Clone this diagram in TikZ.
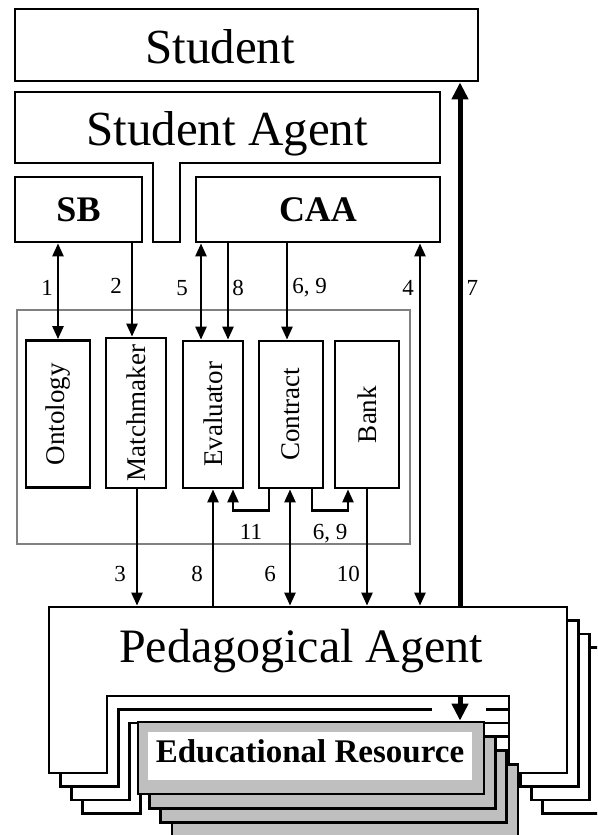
\documentclass[tikz,border=0pt]{standalone}
\usepackage{fontspec}
\setmainfont{Liberation Serif}
\usetikzlibrary{arrows.meta}
\definecolor{ergray}{HTML}{BFBFBF}
\definecolor{coregray}{HTML}{808080}

\begin{document}
\begin{tikzpicture}[
  x=1pt, y=-1pt,
  line width=2.8pt,
  box/.style={draw, fill=white, inner sep=0pt},
  part/.style={box, minimum height=147pt, font=\fontsize{27}{27}\selectfont},
  big/.style={inner sep=0pt, font=\fontsize{49}{49}\selectfont},
  strong/.style={font=\fontsize{36}{36}\selectfont\bfseries},
  num/.style={inner sep=0pt, font=\fontsize{23}{23}\selectfont},
  link/.style={line width=2.5pt, >={Triangle[length=13pt,width=11pt]}},
  heavy/.style={line width=5pt, >={Triangle[length=17pt,width=16pt]}}
]
  \useasboundingbox (0,0) rectangle (597,835);
  \clip (0,0) rectangle (597,835);

  \foreach \n/\x in {c1/58, c2/132, c5/201, c8/228, c69/287, c4/420, c7/460,
                     d3/137, d8/213, d6/290, d10/367,
                     e11/269, f11/233, e69/312, f69/348}
    \coordinate (\n) at (\x,0);

  \node[box, minimum width=463pt, minimum height=72pt] (student) at (246.5,45) {};
  \node[big, anchor=base] (studentname) at (220,63) {Student};

  \draw[fill=white] (15,92) -- (440,92) -- (440,163) -- (180,163) -- (180,242)
    -- (153,242) -- (153,163) -- (15,163) -- cycle;
  \node[big, anchor=base] (sa) at (227,145) {Student Agent};

  \node[box, strong, minimum width=127pt, minimum height=65pt] (sb) at (78.5,209.5) {SB};
  \node[box, strong, minimum width=244pt, minimum height=65pt] (caa) at (318,209.5) {CAA};

  \node[draw=coregray, line width=2.8pt, minimum width=393pt, minimum height=234pt] (core) at (213.5,427) {};
  \node[part, minimum width=64pt] (onto) at (58,414) {\rotatebox{90}{Ontology}};
  \node[part, minimum width=60pt, minimum height=150pt] (match) at (136,413) {\rotatebox{90}{Matchmaker}};
  \node[part, minimum width=60pt] (eval) at (213,414.5) {\rotatebox{90}{Evaluator}};
  \node[part, minimum width=64pt] (contract) at (291,414.5) {\rotatebox{90}{Contract}};
  \node[part, minimum width=64pt] (bank) at (367,414.5) {\rotatebox{90}{Bank}};

  \foreach \k in {3,2,1,0}
    \draw[fill=white, shift={(11.2*\k,13.5*\k)}] (49,607) -- (567,607) -- (567,773)
      -- (509,773) -- (509,696) -- (107,696) -- (107,773) -- (49,773) -- cycle;
  \node[inner sep=0pt, minimum height=89pt, font=\fontsize{48}{48}\selectfont] (pa) at (301,651.5) {Pedagogical Agent};
  \fill[white] (432,701) rectangle (486,716);

  \foreach \k in {3,2,1}
    \draw[fill=ergray, shift={(11.3*\k,14.2*\k)}] (138,722) rectangle (484,794);
  \node[box, fill=ergray, minimum width=346pt, minimum height=72pt] (er) at (311,758) {};
  \node[fill=white, inner sep=0pt, minimum width=324pt, minimum height=48pt,
        text height=22.3pt, text depth=10pt, font=\fontsize{33}{33}\selectfont\bfseries]
    (ertext) at (310,756) {Educational Resource};

  \draw[link, <->] (sb.south -| c1) -- node[num, left=4pt, pos=0.46] (n1) {1} (onto.north -| c1);
  \draw[link, ->] (sb.south -| c2) -- node[num, left=9pt, pos=0.46] (n2) {2} (match.north -| c2);
  \draw[link, <->] (caa.south -| c5) -- node[num, left=12pt, pos=0.46] (n5) {5} (eval.north -| c5);
  \draw[link, ->] (caa.south -| c8) -- node[num, right=3pt, pos=0.46] (n8) {8} (eval.north -| c8);
  \draw[link, ->] (caa.south -| c69) -- node[num, right=4pt, pos=0.46] (n69) {6, 9} (contract.north -| c69);
  \draw[link, <->] (caa.south -| c4) -- node[num, left=5pt, pos=0.123] (n4) {4} (pa.north -| c4);
  \draw[heavy, ->] (pa.north -| c7) -- node[num, right=4pt, pos=0.608] (n7) {7} (student.south -| c7);

  \draw[link, ->] (match.south -| d3) -- node[num, left=10pt, pos=0.73] (m3) {3} (pa.north -| d3);
  \draw[link, ->] (pa.north -| d8) -- node[num, left=9pt, pos=0.27] (m8) {8} (eval.south -| d8);
  \draw[link, <->] (contract.south -| d6) -- node[num, left=13pt, pos=0.73] (m6) {6} (pa.north -| d6);
  \draw[link, ->] (bank.south -| d10) -- node[num, left=6pt, pos=0.73] (m10) {10} (pa.north -| d10);

  \draw[link, ->] (contract.south -| e11) -- ++(0,21) -| node[num, below=13pt, pos=0.25] (m11) {11} (eval.south -| f11);
  \draw[link, ->] (contract.south -| e69) -- ++(0,21) -| node[num, below=13pt, pos=0.25] (m69) {6, 9} (bank.south -| f69);

  \draw[heavy, ->] (pa.south -| c7) -- (er.north -| c7);
\end{tikzpicture}
\end{document}
